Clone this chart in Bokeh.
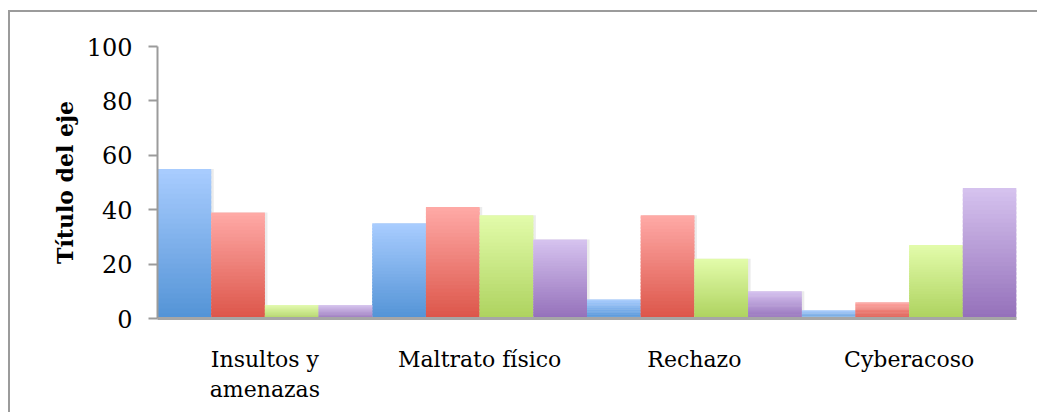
from bokeh.plotting import figure
from bokeh.models import ColumnDataSource, FactorRange, Range1d, FixedTicker, Div
from bokeh.layouts import row, column
from bokeh.transform import dodge
from bokeh.embed import file_html
from bokeh.resources import INLINE

# ---- data ----
categories = ["Insultos y\namenazas", "Maltrato físico", "Rechazo", "Cyberacoso"]
series_names = ["Serie 1", "Serie 2", "Serie 3", "Serie 4"]
serie1 = [55, 35, 7, 3]
serie2 = [39, 41, 38, 6]
serie3 = [5, 38, 22, 27]
serie4 = [5, 29, 10, 48]
y_ticks = [0, 20, 40, 60, 80, 100]
axis_title = "Título del eje"

series_values = [serie1, serie2, serie3, serie4]
# gradient colours (top, bottom) per series
top_colors = ["#a9cdff", "#ffaaa7", "#e3fcab", "#d6c3ef"]
bottom_colors = ["#5393d6", "#dc5549", "#add25e", "#9470ba"]


def hex2rgb(h):
    h = h.lstrip("#")
    return tuple(int(h[i:i + 2], 16) for i in (0, 2, 4))


def mix(c1, c2, t):
    a, b = hex2rgb(c1), hex2rgb(c2)
    return "#%02x%02x%02x" % tuple(round(a[i] + (b[i] - a[i]) * t) for i in range(3))


FONT = "DejaVu Serif"
N = 30
W, H = 1020, 400

p = figure(
    x_range=FactorRange(*categories, range_padding=0),
    y_range=Range1d(0, 100),
    width=W, height=H,
    output_backend="svg", toolbar_location=None,
    min_border_left=147, min_border_top=34, min_border_bottom=94, min_border_right=14,
    margin=0,
)

offsets = [-0.375, -0.125, 0.125, 0.375]

# soft drop shadows behind the bars
for k, vals in enumerate(series_values):
    ssrc = ColumnDataSource(dict(x=categories, top=vals))
    p.vbar(x=dodge("x", offsets[k] + 0.012, range=p.x_range), width=0.25, bottom=0, top="top",
           fill_color="black", fill_alpha=0.08, line_color=None, source=ssrc)

# gradient-filled bars (each bar split into thin bands from dark bottom to light top)
for k, vals in enumerate(series_values):
    xs, bottoms, tops, colors = [], [], [], []
    for cat, v in zip(categories, vals):
        for i in range(N):
            xs.append(cat)
            bottoms.append(v * i / N)
            tops.append(v * min(i + 1.6, N) / N)
            colors.append(mix(bottom_colors[k], top_colors[k], (i + 0.5) / N))
    src = ColumnDataSource(dict(x=xs, bottom=bottoms, top=tops, color=colors))
    p.vbar(x=dodge("x", offsets[k], range=p.x_range), width=0.25, bottom="bottom", top="top",
           fill_color="color", line_color=None, source=src,
           legend_label=series_names[k])

p.legend.visible = False
p.xgrid.visible = False
p.ygrid.visible = False
p.outline_line_color = None
p.background_fill_color = "white"
p.border_fill_color = "white"

# y axis
p.yaxis.ticker = FixedTicker(ticks=y_ticks)
p.yaxis.axis_label = axis_title
p.yaxis.axis_label_text_font = FONT
p.yaxis.axis_label_text_font_style = "bold"
p.yaxis.axis_label_text_font_size = "22px"
p.yaxis.axis_label_text_color = "black"
p.yaxis.axis_label_standoff = 6
p.yaxis.major_label_text_font = FONT
p.yaxis.major_label_text_font_size = "24px"
p.yaxis.major_label_text_color = "black"
p.yaxis.major_label_standoff = 16
p.yaxis.axis_line_color = "#9b9b9b"
p.yaxis.axis_line_width = 2
p.yaxis.major_tick_line_color = "#9b9b9b"
p.yaxis.major_tick_line_width = 2
p.yaxis.major_tick_out = 9
p.yaxis.major_tick_in = 0
p.yaxis.minor_tick_line_color = None

# x axis
p.xaxis.axis_line_color = "#a6a6a6"
p.xaxis.axis_line_width = 3
p.xaxis.major_tick_line_color = None
p.xaxis.minor_tick_line_color = None
p.xaxis.major_label_text_font = FONT
p.xaxis.major_label_text_font_size = "22px"
p.xaxis.major_label_text_color = "black"
p.xaxis.major_label_standoff = 22
p.xaxis.major_label_orientation = "horizontal"

# chart-area border (top and left edges are the only ones inside the window)
top_line = Div(text="", width=1029, height=2, margin=0, styles={"background-color": "#9b9b9b"})
left_line = Div(text="", width=2, height=H, margin=0, styles={"background-color": "#9b9b9b"})
page = column(top_line, row(left_line, p, spacing=0, margin=0), spacing=0, margin=0,
              styles={"margin-top": "10px", "margin-left": "8px"})

open("out.html", "w").write(file_html(page, INLINE))
